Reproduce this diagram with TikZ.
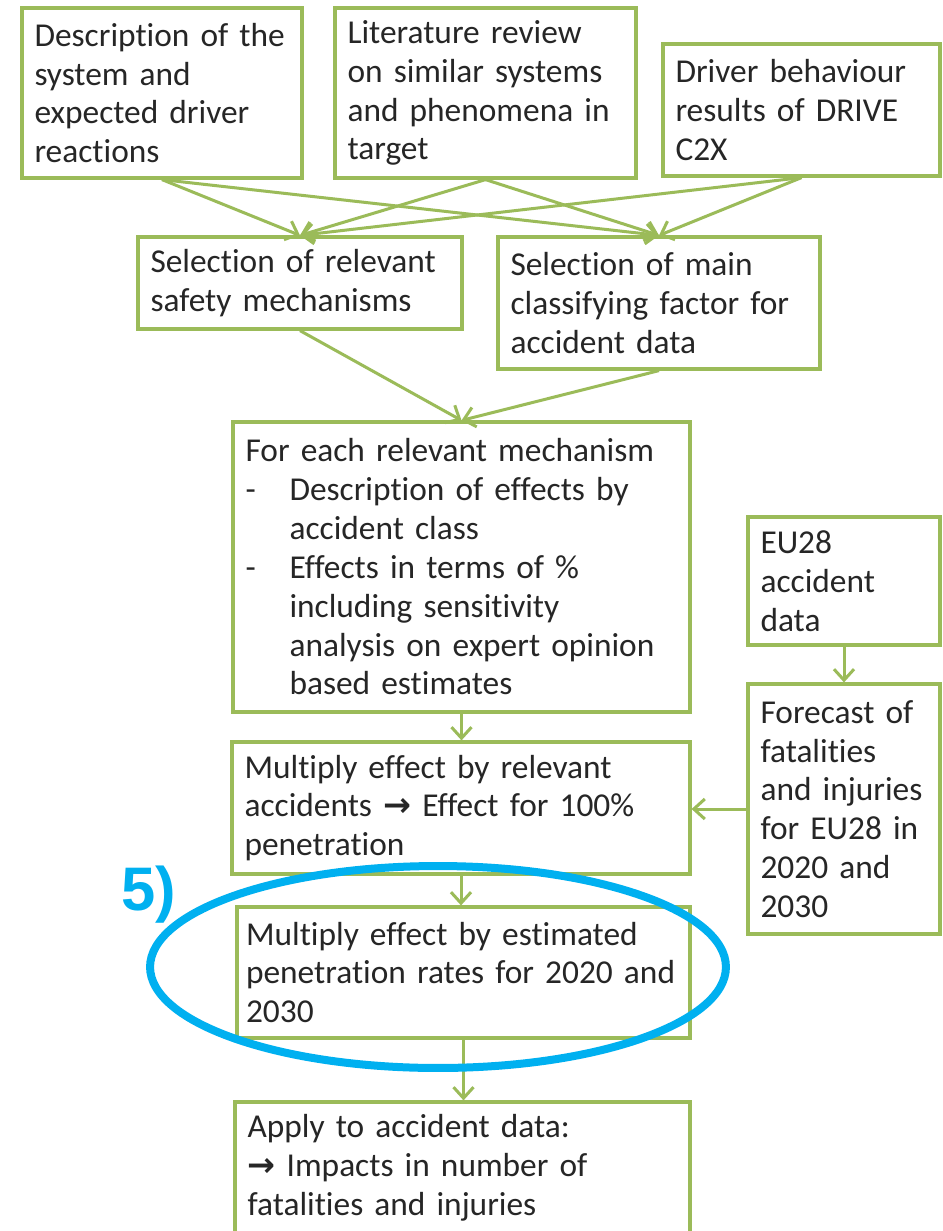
\documentclass[tikz,border=0pt]{standalone}
\usepackage{fontspec}
\setmainfont{Carlito}[Ligatures=NoCommon]
\newfontfamily\arrowfont{DejaVu Sans}
\newfontfamily\labelfont{Liberation Sans}
\usetikzlibrary{arrows.meta}
\definecolor{boxgreen}{HTML}{9BBB59}
\definecolor{markblue}{HTML}{00B0F0}
\definecolor{boxtext}{HTML}{262626}
\begin{document}
\begin{tikzpicture}[x=0.02cm, y=-0.02cm,
	greenbox/.style={shape=rectangle, draw=boxgreen, line width=0.065cm, fill=white, text=boxtext, align=left, inner xsep=0.25cm, inner ysep=0pt, font={\fontsize{19}{22.1}\selectfont}},
	greenarrow/.style={draw=boxgreen, line width=0.06cm, -{Straight Barb[length=0.22cm, width=0.4cm]}}]
			\fill[white] (0,0) rectangle (943,1231);
			\useasboundingbox (0,0) rectangle (943,1231);
			%Input boxes:
			\path
				(162, 93) node[greenbox, text width=5.1cm, minimum height=3.4cm] (descr) {Description of the\\system and\\expected driver\\reactions}
				(485.5, 93) node[greenbox, text width=5.52cm, minimum height=3.4cm] (litrev) {Literature review\\on similar systems\\and phenomena in\\target}
				(801.5, 110) node[greenbox, text width=5.04cm, minimum height=2.64cm] (drive) {Driver behaviour\\results of DRIVE\\C2X};
			%Selection boxes:
			\path
				(300, 283) node[greenbox, text width=5.98cm, minimum height=1.84cm] (mechsel) {Selection of relevant\\safety mechanisms}
				(659, 303) node[greenbox, text width=5.94cm, minimum height=2.64cm] (factsel) {Selection of main\\classifying factor for\\accident data};
			%Effect chain:
			\path
				(461.5, 567) node[greenbox, text width=8.64cm, minimum height=5.8cm] (effects) {For each relevant mechanism\\\makebox[0.88cm][l]{-}Description of effects by\\\hspace*{0.88cm}accident class\\\makebox[0.88cm][l]{-}Effects in terms of \%\\\hspace*{0.88cm}including sensitivity\\\hspace*{0.88cm}analysis on expert opinion\\\hspace*{0.88cm}based estimates}
				(461, 808) node[greenbox, text width=8.66cm, minimum height=2.64cm] (full) {Multiply effect by relevant\\accidents {\arrowfont\bfseries →} Effect for 100\%\\penetration}
				(463.5, 972.5) node[greenbox, inner xsep=0.18cm, text width=8.7cm, minimum height=2.62cm] (penrate) {Multiply effect by estimated\\penetration rates for 2020~and\\2030}
				(462.5, 1168) node[greenbox, text width=8.6cm, minimum height=2.64cm] (apply) {Apply to accident data:\\{\arrowfont\bfseries →} Impacts in number of\\fatalities and injuries};
			%Accident data:
			\path
				(844, 581) node[greenbox, text width=3.34cm, minimum height=2.56cm] (eudata) {EU28\\accident\\data}
				(844, 809) node[greenbox, text width=3.34cm, minimum height=5.0cm] (forecast) {Forecast of\\fatalities\\and injuries\\for EU28 in\\2020 and\\2030};
			%Arrows:
			\draw[greenarrow] (descr.south) -- (mechsel.north);
			\draw[greenarrow] (descr.south) -- (factsel.north);
			\draw[greenarrow] (litrev.south) -- (mechsel.north);
			\draw[greenarrow] (litrev.south) -- (factsel.north);
			\draw[greenarrow] (drive.south) -- (mechsel.north);
			\draw[greenarrow] (drive.south) -- (factsel.north);
			\draw[greenarrow] (mechsel.south) -- (effects.north);
			\draw[greenarrow] (factsel.south) -- (effects.north);
			\draw[greenarrow] (effects.south) -- (effects.south |- full.north);
			\draw[greenarrow] (full.south) -- (full.south |- penrate.north);
			\draw[greenarrow] (penrate.south) -- (penrate.south |- apply.north);
			\draw[greenarrow] (eudata.south) -- (forecast.north);
			\draw[greenarrow] (forecast.west) -- (forecast.west -| full.east);
			%Highlight:
			\draw[markblue, line width=0.16cm] (438, 967) ellipse [x radius=5.76cm, y radius=2.02cm];
			\node[anchor=base west, inner sep=0pt, text=markblue, font={\labelfont\bfseries\fontsize{35}{35}\selectfont}] (stepfive) at (121, 910) {5)};
			\end{tikzpicture}
\end{document}
